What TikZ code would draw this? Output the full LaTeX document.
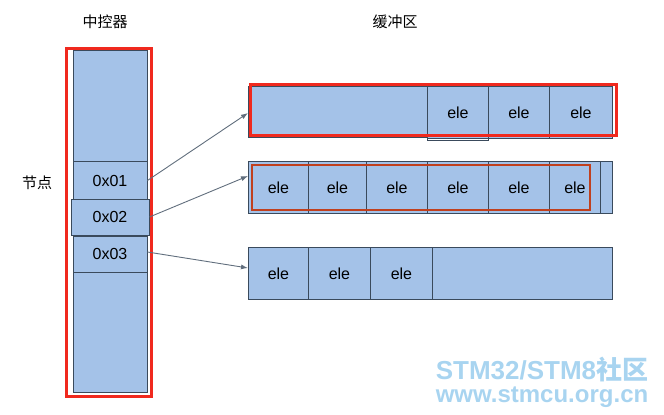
\documentclass[tikz,border=0pt]{standalone}
\usepackage{fontspec}
\setmainfont{Liberation Sans}
\newfontfamily\cjk{Noto Sans CJK SC}
\usetikzlibrary{arrows.meta}
\definecolor{cellblue}{HTML}{A4C2E8}
\definecolor{edge}{HTML}{3A4A5C}
\definecolor{hl}{HTML}{F0291E}
\definecolor{hlb}{HTML}{C0401E}
\definecolor{wm}{HTML}{A8D4F0}
\begin{document}
\begin{tikzpicture}[x=1pt,y=-1pt,
  cell/.style={draw=edge,fill=cellblue,line width=0.9pt},
  lbl/.style={font=\fontsize{16}{16}\selectfont},
  cn/.style={font=\cjk\fontsize{15}{15}\selectfont},
  arr/.style={draw=edge!80,line width=0.9pt,-{Latex[length=7pt,width=5pt]}}]
\useasboundingbox (0,0) rectangle (664,415);
% controller
\draw[cell] (73,50) rectangle (147,392);
\node[cell,minimum width=74pt,minimum height=39pt,inner sep=0,lbl] (n1) at (110,180.5) {0x01};
\node[cell,minimum width=78pt,minimum height=36pt,inner sep=0,lbl] (n2) at (110,217) {0x02};
\node[cell,minimum width=74pt,minimum height=36pt,inner sep=0,lbl] (n3) at (110,254) {0x03};
\draw[hl,line width=3pt] (66,48) rectangle (151,396);
\node[cn] (t1) at (105,22) {中控器};
\node[cn] (t2) at (395,22) {缓冲区};
\node[cn] (t3) at (37,183) {节点};
% buffer 1
\draw[cell] (248,86) rectangle (612,137);
\foreach \a/\b/\k in {427/488/a,488/549/b,549/612/c}{
  \node[cell,minimum width={\b-\a},minimum height=52pt,inner sep=0,lbl,anchor=north west] (b1\k) at (\a,86) {ele};}
\draw[cell,fill=none] (427,86) rectangle (488,140);
\draw[hl,line width=3pt] (250,84) rectangle (616,135);
% buffer 2
\draw[cell] (248,161) rectangle (612,213);
\foreach \a/\b/\k in {248/308/a,308/366/b,366/427/c,427/488/d,488/549/e,549/600/f}{
  \node[cell,minimum width={\b-\a},minimum height=52pt,inner sep=0,lbl,anchor=north west] (b2\k) at (\a,161) {ele};}
\draw[hlb,line width=2.6pt] (252,165) rectangle (590,210);
% buffer 3
\draw[cell] (248,247) rectangle (612,299);
\foreach \a/\b/\k in {248/308/a,308/370/b,370/432/c}{
  \node[cell,minimum width={\b-\a},minimum height=52pt,inner sep=0,lbl,anchor=north west] (b3\k) at (\a,247) {ele};}
% arrows
\coordinate (e1) at (248,113);
\coordinate (e2) at (248,176);
\coordinate (e3) at (248,268);
\draw[arr] (n1.east) -- (e1);
\draw[arr] (n2.east) -- (e2);
\draw[arr] (n3.east) ++(0,-2) -- (e3);
% watermark
\node[wm,inner sep=0,font=\bfseries\fontsize{26}{26}\selectfont] (w1) at (542,369) {STM32/STM8{\cjk 社区}};
\node[wm,inner sep=0,font=\bfseries\fontsize{24}{24}\selectfont] (w2) at (542,397) {www.stmcu.org.cn};
\end{tikzpicture}
\end{document}
